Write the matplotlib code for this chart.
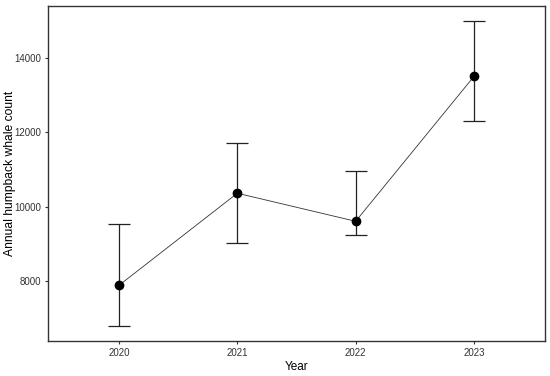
import numpy as np
import matplotlib
matplotlib.use("Agg")
import matplotlib.pyplot as plt

plt.rcParams["font.family"] = ["Liberation Sans", "DejaVu Sans"]

years = ["2020", "2021", "2022", "2023"]
counts = [7884, 10358, 9604, 13498]
lower = [6798, 9011, 9245, 12305]
upper = [9520, 11706, 10960, 14978]

x = np.arange(len(years))
counts = np.array(counts)
yerr = [counts - np.array(lower), np.array(upper) - counts]

fig = plt.figure(figsize=(5.5, 3.76), dpi=100)
ax = fig.add_axes([48 / 550, 35 / 376, 497 / 550, 335 / 376])

ax.plot(x, counts, color="#333333", lw=0.6, zorder=2)
ax.errorbar(x, counts, yerr=yerr, fmt="none", ecolor="#222222",
            elinewidth=0.9, capsize=7.6, capthick=0.9, zorder=3)
ax.scatter(x, counts, s=36, color="black", zorder=4)

ax.set_xlim(-0.6, len(years) - 1 + 0.6)
ax.set_ylim(6389, 15387)
ax.set_xticks(x)
ax.set_xticklabels(years)
ax.set_yticks([8000, 10000, 12000, 14000])

for s in ax.spines.values():
    s.set_color("#333333")
    s.set_linewidth(1.0)
ax.tick_params(length=2.5, width=0.8, color="#333333", labelcolor="#333333",
               labelsize=7, pad=2.5)

ax.set_xlabel("Year", fontsize=8.5, labelpad=2)
ax.set_ylabel("Annual humpback whale count", fontsize=8.7)
ax.yaxis.set_label_coords(-0.064, 0.5)

fig.savefig("out.png", dpi=100)
